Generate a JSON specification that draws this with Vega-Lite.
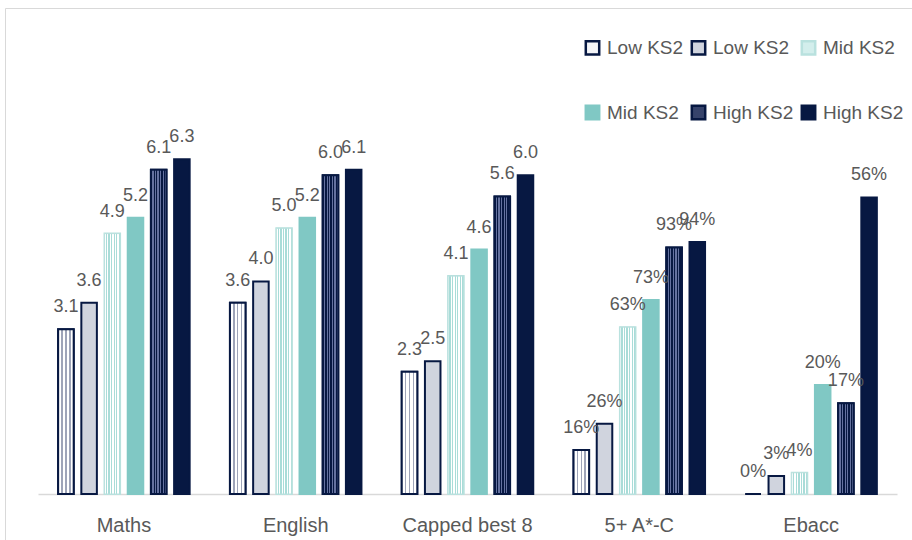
{
  "$schema": "https://vega.github.io/schema/vega-lite/v6.json",
  "width": 907,
  "height": 532,
  "autosize": {"type": "none"},
  "padding": {"left": 5, "top": 8, "right": 0, "bottom": 0},
  "background": "white",
  "config": {"view": {"stroke": "#d9d9d9", "strokeWidth": 1}, "font": "Liberation Sans"},
  "data": {
    "values": [
      {"cat": "Maths", "series": "1 Low KS2", "value": 3.1, "label": "3.1"},
      {"cat": "Maths", "series": "2 Low KS2", "value": 3.6, "label": "3.6"},
      {"cat": "Maths", "series": "3 Mid KS2", "value": 4.9, "label": "4.9"},
      {"cat": "Maths", "series": "4 Mid KS2", "value": 5.2, "label": "5.2"},
      {"cat": "Maths", "series": "5 High KS2", "value": 6.1, "label": "6.1"},
      {"cat": "Maths", "series": "6 High KS2", "value": 6.3, "label": "6.3"},
      {"cat": "English", "series": "1 Low KS2", "value": 3.6, "label": "3.6"},
      {"cat": "English", "series": "2 Low KS2", "value": 4.0, "label": "4.0"},
      {"cat": "English", "series": "3 Mid KS2", "value": 5.0, "label": "5.0"},
      {"cat": "English", "series": "4 Mid KS2", "value": 5.2, "label": "5.2"},
      {"cat": "English", "series": "5 High KS2", "value": 6.0, "label": "6.0"},
      {"cat": "English", "series": "6 High KS2", "value": 6.1, "label": "6.1"},
      {"cat": "Capped best 8", "series": "1 Low KS2", "value": 2.3, "label": "2.3"},
      {"cat": "Capped best 8", "series": "2 Low KS2", "value": 2.5, "label": "2.5"},
      {"cat": "Capped best 8", "series": "3 Mid KS2", "value": 4.1, "label": "4.1"},
      {"cat": "Capped best 8", "series": "4 Mid KS2", "value": 4.6, "label": "4.6"},
      {"cat": "Capped best 8", "series": "5 High KS2", "value": 5.6, "label": "5.6"},
      {"cat": "Capped best 8", "series": "6 High KS2", "value": 6.0, "label": "6.0"},
      {"cat": "5+ A*-C", "series": "1 Low KS2", "value": 0.83, "label": "16%"},
      {"cat": "5+ A*-C", "series": "2 Low KS2", "value": 1.32, "label": "26%"},
      {"cat": "5+ A*-C", "series": "3 Mid KS2", "value": 3.14, "label": "63%"},
      {"cat": "5+ A*-C", "series": "4 Mid KS2", "value": 3.65, "label": "73%"},
      {"cat": "5+ A*-C", "series": "5 High KS2", "value": 4.64, "label": "93%"},
      {"cat": "5+ A*-C", "series": "6 High KS2", "value": 4.74, "label": "94%"},
      {"cat": "Ebacc", "series": "1 Low KS2", "value": 0, "label": "0%"},
      {"cat": "Ebacc", "series": "2 Low KS2", "value": 0.34, "label": "3%"},
      {"cat": "Ebacc", "series": "3 Mid KS2", "value": 0.4, "label": "4%"},
      {"cat": "Ebacc", "series": "4 Mid KS2", "value": 2.05, "label": "20%"},
      {"cat": "Ebacc", "series": "5 High KS2", "value": 1.71, "label": "17%"},
      {"cat": "Ebacc", "series": "6 High KS2", "value": 5.58, "label": "56%"}
    ]
  },
  "encoding": {
    "x": {
      "field": "cat",
      "type": "nominal",
      "sort": ["Maths", "English", "Capped best 8", "5+ A*-C", "Ebacc"],
      "scale": {"range": [33, 892], "paddingInner": 0.19, "paddingOuter": 0.095},
      "axis": {
        "title": null,
        "offset": -46,
        "domainColor": "#d9d9d9",
        "domainWidth": 1.5,
        "ticks": false,
        "labelAngle": 0,
        "labelFontSize": 20,
        "labelColor": "#595959",
        "labelFont": "Liberation Sans",
        "labelPadding": 21
      }
    },
    "xOffset": {
      "field": "series",
      "type": "nominal",
      "scale": {"paddingInner": 0.33, "paddingOuter": 0.165}
    },
    "y": {
      "field": "value",
      "type": "quantitative",
      "scale": {"domain": [0, 7], "range": [486, 114], "nice": false, "zero": true},
      "axis": null
    }
  },
  "layer": [
    {
      "mark": {"type": "bar", "strokeWidth": 2},
      "encoding": {
        "fill": {
          "field": "series",
          "type": "nominal",
          "scale": {"range": ["#f4f5f8", "#d0d4de", "#d3eeec", "#80c8c4", "#36436b", "#071842"]},
          "legend": {
            "orient": "none",
            "legendX": 578,
            "legendY": 30,
            "direction": "horizontal",
            "columns": 3,
            "columnPadding": 2,
            "rowPadding": 40,
            "symbolType": "square",
            "symbolSize": 180,
            "symbolStrokeWidth": 2.5,
            "labelFontSize": 19,
            "labelColor": "#595959",
            "labelFont": "Liberation Sans",
            "labelOffset": 5,
            "title": null,
            "padding": 0,
            "labelExpr": "substring(datum.label, 2)"
          }
        },
        "stroke": {
          "field": "series",
          "type": "nominal",
          "scale": {"range": ["#071842", "#071842", "#b9e1de", "#80c8c4", "#071842", "#071842"]}
        }
      }
    },
    {
      "transform": [{"filter": "datum.series == '1 Low KS2'"}],
      "mark": {
        "type": "bar",
        "stroke": "#071842",
        "strokeWidth": 2,
        "fill": {
          "gradient": "linear", "x1": 0, "y1": 0, "x2": 1, "y2": 0,
          "stops": [
            {"offset": 0, "color": "#ffffff"}, {"offset": 0.2, "color": "#ffffff"},
            {"offset": 0.2, "color": "#9ea4b8"}, {"offset": 0.3, "color": "#9ea4b8"},
            {"offset": 0.3, "color": "#ffffff"}, {"offset": 0.45, "color": "#ffffff"},
            {"offset": 0.45, "color": "#9ea4b8"}, {"offset": 0.55, "color": "#9ea4b8"},
            {"offset": 0.55, "color": "#ffffff"}, {"offset": 0.7, "color": "#ffffff"},
            {"offset": 0.7, "color": "#9ea4b8"}, {"offset": 0.8, "color": "#9ea4b8"},
            {"offset": 0.8, "color": "#ffffff"}, {"offset": 1, "color": "#ffffff"}
          ]
        }
      }
    },
    {
      "transform": [{"filter": "datum.series == '3 Mid KS2'"}],
      "mark": {
        "type": "bar",
        "stroke": "#b9e1de",
        "strokeWidth": 1,
        "fill": {
          "gradient": "linear", "x1": 0, "y1": 0, "x2": 1, "y2": 0,
          "stops": [
            {"offset": 0, "color": "#ffffff"}, {"offset": 0.0833, "color": "#ffffff"},
            {"offset": 0.0833, "color": "#a9dcd8"}, {"offset": 0.1667, "color": "#a9dcd8"},
            {"offset": 0.1667, "color": "#ffffff"}, {"offset": 0.25, "color": "#ffffff"},
            {"offset": 0.25, "color": "#a9dcd8"}, {"offset": 0.3333, "color": "#a9dcd8"},
            {"offset": 0.3333, "color": "#ffffff"}, {"offset": 0.4167, "color": "#ffffff"},
            {"offset": 0.4167, "color": "#a9dcd8"}, {"offset": 0.5, "color": "#a9dcd8"},
            {"offset": 0.5, "color": "#ffffff"}, {"offset": 0.5833, "color": "#ffffff"},
            {"offset": 0.5833, "color": "#a9dcd8"}, {"offset": 0.6667, "color": "#a9dcd8"},
            {"offset": 0.6667, "color": "#ffffff"}, {"offset": 0.75, "color": "#ffffff"},
            {"offset": 0.75, "color": "#a9dcd8"}, {"offset": 0.8333, "color": "#a9dcd8"},
            {"offset": 0.8333, "color": "#ffffff"}, {"offset": 0.9167, "color": "#ffffff"},
            {"offset": 0.9167, "color": "#a9dcd8"}, {"offset": 1, "color": "#a9dcd8"}
          ]
        }
      }
    },
    {
      "transform": [{"filter": "datum.series == '5 High KS2'"}],
      "mark": {
        "type": "bar",
        "stroke": "#071842",
        "strokeWidth": 2,
        "fill": {
          "gradient": "linear", "x1": 0, "y1": 0, "x2": 1, "y2": 0,
          "stops": [
            {"offset": 0, "color": "#071842"}, {"offset": 0.0833, "color": "#071842"},
            {"offset": 0.0833, "color": "#6572a0"}, {"offset": 0.1667, "color": "#6572a0"},
            {"offset": 0.1667, "color": "#071842"}, {"offset": 0.25, "color": "#071842"},
            {"offset": 0.25, "color": "#6572a0"}, {"offset": 0.3333, "color": "#6572a0"},
            {"offset": 0.3333, "color": "#071842"}, {"offset": 0.4167, "color": "#071842"},
            {"offset": 0.4167, "color": "#6572a0"}, {"offset": 0.5, "color": "#6572a0"},
            {"offset": 0.5, "color": "#071842"}, {"offset": 0.5833, "color": "#071842"},
            {"offset": 0.5833, "color": "#6572a0"}, {"offset": 0.6667, "color": "#6572a0"},
            {"offset": 0.6667, "color": "#071842"}, {"offset": 0.75, "color": "#071842"},
            {"offset": 0.75, "color": "#6572a0"}, {"offset": 0.8333, "color": "#6572a0"},
            {"offset": 0.8333, "color": "#071842"}, {"offset": 0.9167, "color": "#071842"},
            {"offset": 0.9167, "color": "#6572a0"}, {"offset": 1, "color": "#6572a0"}
          ]
        }
      }
    },
    {
      "mark": {
        "type": "text",
        "dy": -17,
        "baseline": "alphabetic",
        "align": "center",
        "fontSize": 18,
        "font": "Liberation Sans",
        "color": "#595959"
      },
      "encoding": {"text": {"field": "label", "type": "nominal"}}
    }
  ]
}
